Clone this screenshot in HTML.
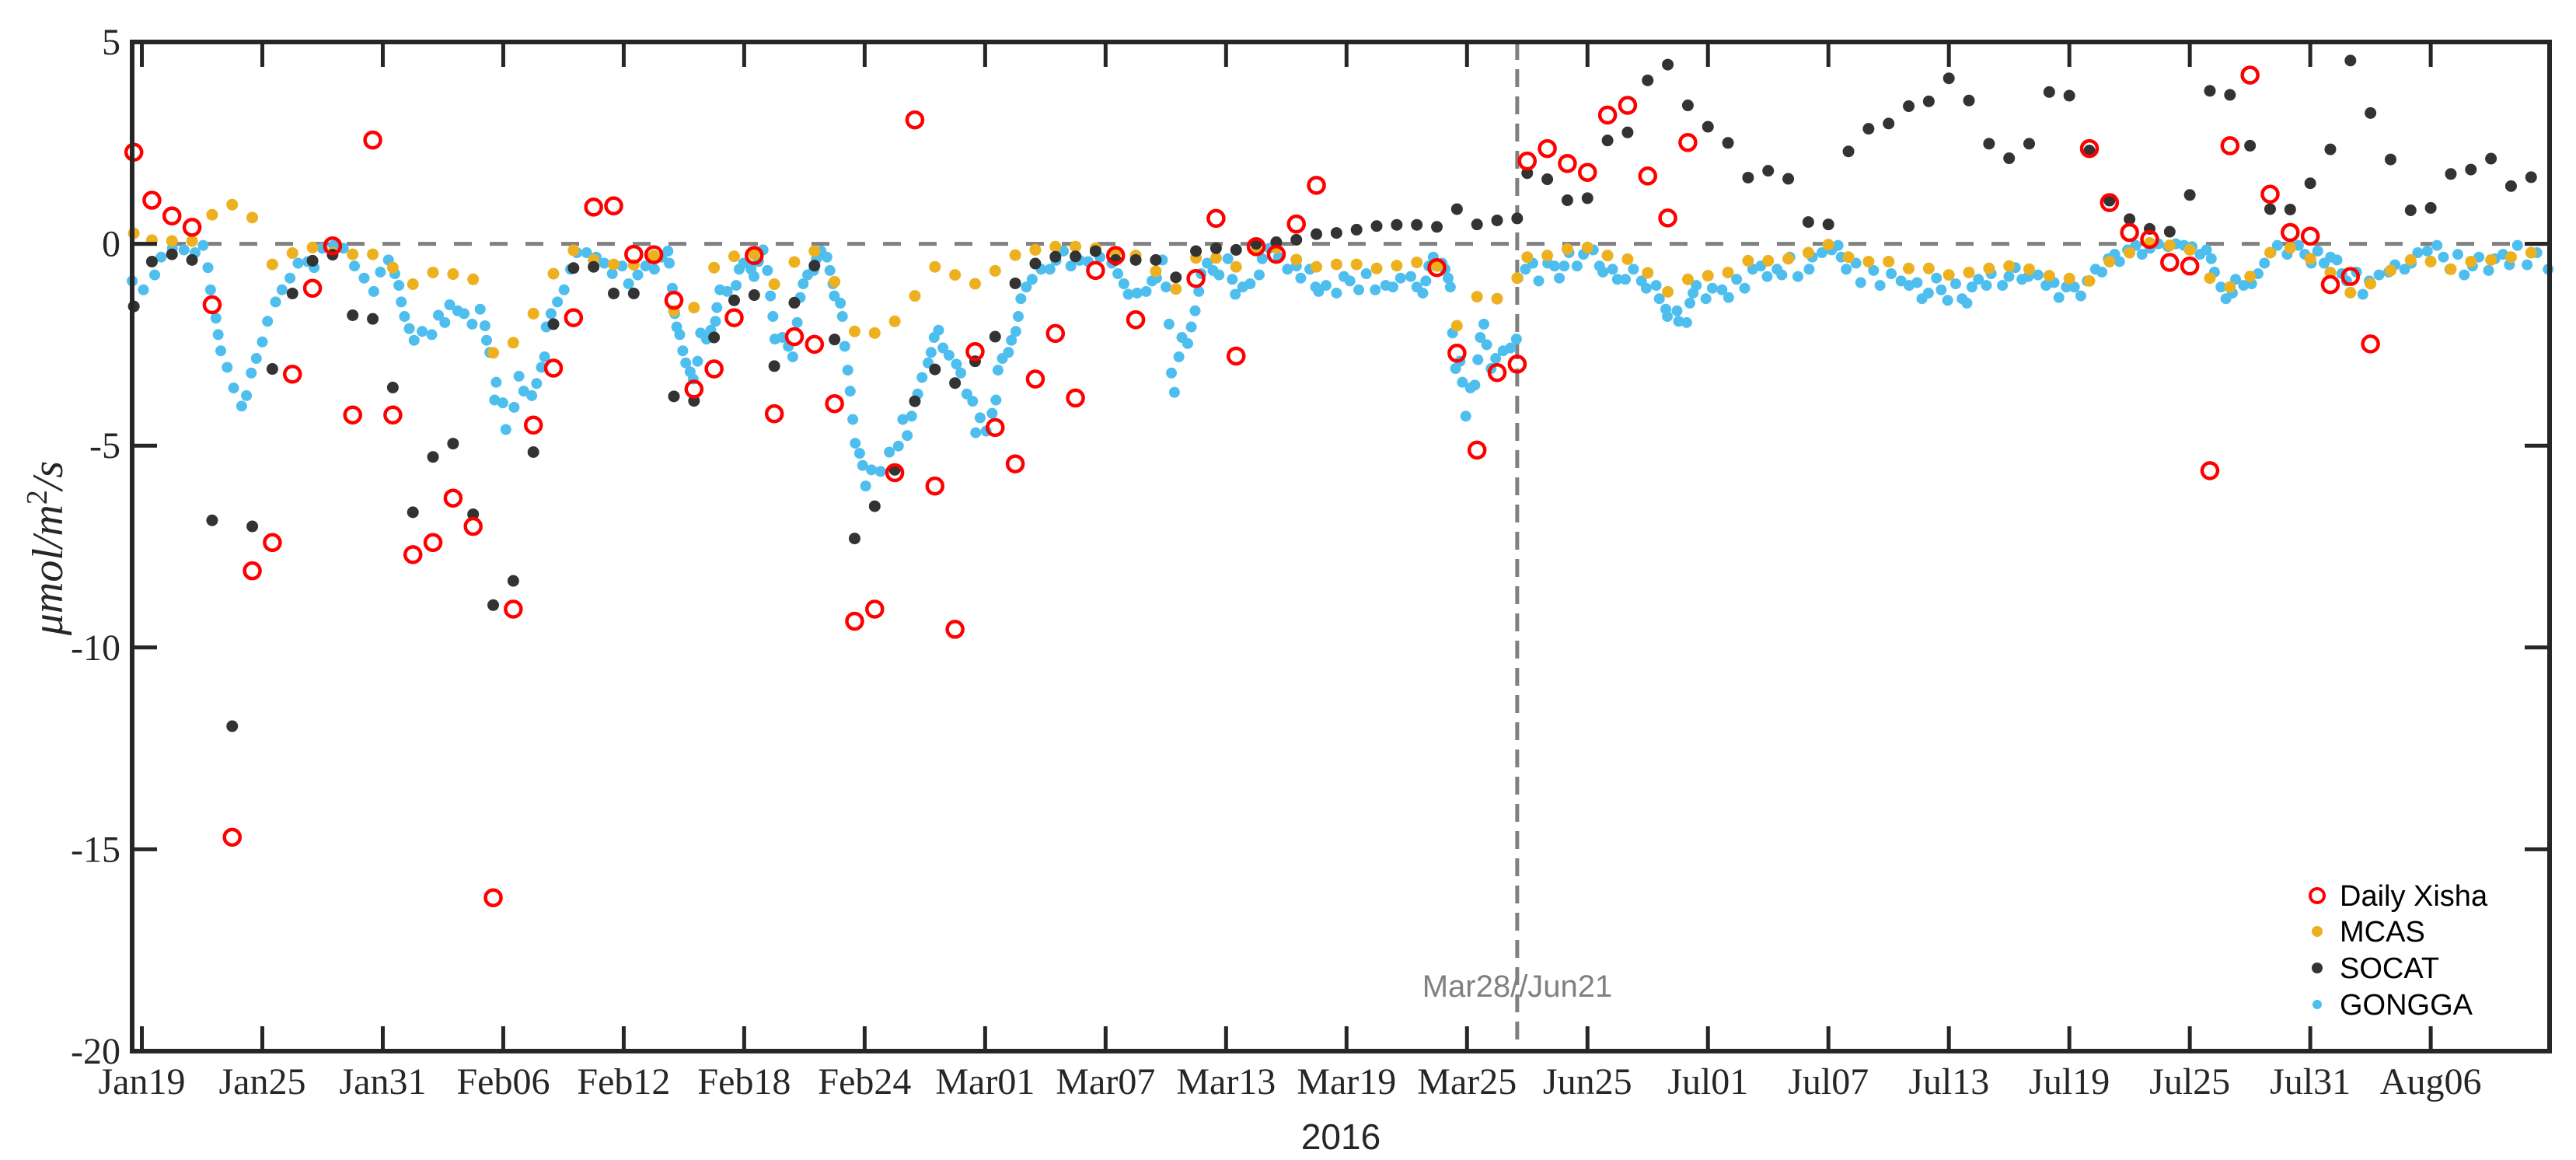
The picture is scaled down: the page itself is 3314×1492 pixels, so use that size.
<!DOCTYPE html>
<html><head><meta charset="utf-8"><style>
html,body{margin:0;padding:0;background:#fff;}
svg{display:block;}
</style></head><body>
<svg id="chart" width="3314" height="1492" viewBox="0 0 3314 1492" xmlns="http://www.w3.org/2000/svg">
<rect x="0" y="0" width="3314" height="1492" fill="#fff"/>
<g id="marks"></g>
<g id="axes"></g>
<text transform="translate(80,705) rotate(-90)" text-anchor="middle" font-family="Liberation Serif, serif" font-style="italic" font-size="56" fill="#262626">μmol/m<tspan dy="-20" font-size="38" font-style="normal">2</tspan><tspan dy="20">/s</tspan></text>
<text x="1725" y="1478" text-anchor="middle" font-family="Liberation Sans, sans-serif" font-size="46" fill="#262626">2016</text>
<text x="1952" y="1282" text-anchor="middle" font-family="Liberation Sans, sans-serif" font-size="40" fill="#808080">Mar28//Jun21</text>
<g font-family="Liberation Sans, sans-serif" font-size="38" fill="#000">
 <g><circle cx="2981" cy="1152" r="9" fill="none" stroke="#ff0000" stroke-width="4"/><text x="3010" y="1165">Daily Xisha</text></g>
 <g><circle cx="2981" cy="1198" r="7" fill="#EDB120"/><text x="3010" y="1211">MCAS</text></g>
 <g><circle cx="2981" cy="1245" r="7" fill="#333"/><text x="3010" y="1258">SOCAT</text></g>
 <g><circle cx="2981" cy="1292" r="6" fill="#4DBEEE"/><text x="3010" y="1305">GONGGA</text></g>
</g>
</svg>
<script>
// ---- data (x = day index, Jan19 = 0; Mar28 joined to Jun21 at 68.5) ----
const xTickIdx = [0,6,12,18,24,30,36,42,48,54,60,66,72,78,84,90,96,102,108,114];
const xTickLabels = ["Jan19","Jan25","Jan31","Feb06","Feb12","Feb18","Feb24","Mar01","Mar07","Mar13","Mar19","Mar25","Jun25","Jul01","Jul07","Jul13","Jul19","Jul25","Jul31","Aug06"];
const yTicks = [5,0,-5,-10,-15,-20];
const yTickLabels = ["5","0","-5","-10","-15","-20"];
const breakIdx = 68.5;

const xishaX = [-0.4,0.5,1.5,2.5,3.5,4.5,5.5,6.5,7.5,8.5,9.5,10.5,11.5,12.5,13.5,14.5,15.5,16.5,17.5,18.5,19.5,20.5,21.5,22.5,23.5,24.5,25.5,26.5,27.5,28.5,29.5,30.5,31.5,32.5,33.5,34.5,35.5,36.5,37.5,38.5,39.5,40.5,41.5,42.5,43.5,44.5,45.5,46.5,47.5,48.5,49.5,52.5,53.5,54.5,55.5,56.5,57.5,58.5,64.5,65.5,66.5,67.5,68.5,69,70,71,72,73,74,75,76,77,97,98,99,100,101,102,103,104,105,106,107,108,109,110,111];
const xishaY = [2.27,1.08,0.69,0.41,-1.51,-14.7,-8.1,-7.4,-3.23,-1.1,-0.05,-4.24,2.57,-4.24,-7.7,-7.4,-6.3,-7.0,-16.2,-9.05,-4.49,-3.08,-1.83,0.91,0.94,-0.26,-0.27,-1.4,-3.6,-3.1,-1.83,-0.29,-4.21,-2.3,-2.49,-3.96,-9.35,-9.05,-5.67,3.07,-6.0,-9.55,-2.67,-4.55,-5.45,-3.35,-2.22,-3.82,-0.66,-0.29,-1.88,-0.86,0.63,-2.78,-0.07,-0.26,0.49,1.45,-0.59,-2.71,-5.11,-3.19,-2.98,2.05,2.36,1.99,1.77,3.19,3.43,1.68,0.64,2.51,2.36,1.02,0.28,0.11,-0.46,-0.55,-5.62,2.43,4.18,1.23,0.28,0.19,-1.01,-0.81,-2.48];

const mcasX = [-0.4,0.5,1.5,2.5,3.5,4.5,5.5,6.5,7.5,8.5,9.5,10.5,11.5,12.5,13.5,14.5,15.5,16.5,17.5,18.5,19.5,20.5,21.5,22.5,23.5,24.5,25.5,26.5,27.5,28.5,29.5,30.5,31.5,32.5,33.5,34.5,35.5,36.5,37.5,38.5,39.5,40.5,41.5,42.5,43.5,44.5,45.5,46.5,47.5,48.5,49.5,50.5,51.5,52.5,53.5,54.5,55.5,56.5,57.5,58.5,59.5,60.5,61.5,62.5,63.5,64.5,65.5,66.5,67.5,68.5,69,70,71,72,73,74,75,76,77,78,79,80,81,82,83,84,85,86,87,88,89,90,91,92,93,94,95,96,97,98,99,100,101,102,103,104,105,106,107,108,109,110,111,112,113,114,115,116,117,118,119];
const mcasY = [0.26,0.09,0.07,0.07,0.72,0.97,0.65,-0.51,-0.23,-0.09,-0.22,-0.26,-0.26,-0.59,-1.0,-0.71,-0.75,-0.88,-2.7,-2.45,-1.73,-0.74,-0.16,-0.4,-0.51,-0.52,-0.29,-1.66,-1.58,-0.59,-0.31,-0.26,-1.0,-0.45,-0.18,-0.94,-2.17,-2.21,-1.92,-1.29,-0.57,-0.77,-0.99,-0.67,-0.28,-0.15,-0.07,-0.07,-0.11,-0.22,-0.29,-0.68,-1.12,-0.35,-0.35,-0.57,-0.17,-0.1,-0.39,-0.57,-0.51,-0.51,-0.61,-0.54,-0.46,-0.55,-2.03,-1.31,-1.36,-0.85,-0.33,-0.29,-0.13,-0.09,-0.29,-0.38,-0.72,-1.19,-0.88,-0.79,-0.71,-0.42,-0.42,-0.37,-0.22,-0.02,-0.33,-0.44,-0.44,-0.61,-0.61,-0.77,-0.71,-0.61,-0.55,-0.63,-0.79,-0.86,-0.92,-0.44,-0.22,0.02,-0.04,-0.15,-0.85,-1.07,-0.81,-0.22,-0.1,-0.37,-0.71,-1.21,-0.99,-0.66,-0.4,-0.44,-0.63,-0.44,-0.4,-0.33,-0.22];

const socatX = [-0.4,0.5,1.5,2.5,3.5,4.5,5.5,6.5,7.5,8.5,9.5,10.5,11.5,12.5,13.5,14.5,15.5,16.5,17.5,18.5,19.5,20.5,21.5,22.5,23.5,24.5,26.5,27.5,28.5,29.5,30.5,31.5,32.5,33.5,34.5,35.5,36.5,37.5,38.5,39.5,40.5,41.5,42.5,43.5,44.5,45.5,46.5,47.5,48.5,49.5,50.5,51.5,52.5,53.5,54.5,55.5,56.5,57.5,58.5,59.5,60.5,61.5,62.5,63.5,64.5,65.5,66.5,67.5,68.5,69,70,71,72,73,74,75,76,77,78,79,80,81,82,83,84,85,86,87,88,89,90,91,92,93,94,95,96,97,98,99,100,101,102,103,104,105,106,107,108,109,110,111,112,113,114,115,116,117,118,119];
const socatY = [-1.55,-0.44,-0.26,-0.4,-6.85,-11.95,-7.0,-3.1,-1.23,-0.42,-0.27,-1.77,-1.86,-3.56,-6.65,-5.28,-4.95,-6.7,-8.95,-8.35,-5.16,-1.99,-0.6,-0.57,-1.23,-1.23,-3.78,-3.89,-2.32,-1.4,-1.27,-3.03,-1.46,-0.54,-2.37,-7.3,-6.5,-5.6,-3.9,-3.11,-3.45,-2.91,-2.3,-0.98,-0.49,-0.32,-0.31,-0.18,-0.4,-0.4,-0.4,-0.83,-0.18,-0.11,-0.15,0.0,0.04,0.1,0.24,0.27,0.35,0.44,0.47,0.47,0.42,0.86,0.48,0.58,0.63,1.75,1.6,1.08,1.13,2.56,2.76,4.05,4.44,3.43,2.9,2.5,1.64,1.81,1.61,0.54,0.48,2.29,2.85,2.98,3.41,3.53,4.1,3.55,2.48,2.12,2.48,3.76,3.67,2.31,1.07,0.61,0.37,0.3,1.21,3.79,3.69,2.43,0.86,0.85,1.5,2.34,4.54,3.24,2.09,0.83,0.89,1.73,1.84,2.11,1.43,1.65];

const gonggaX = [-0.48,0.08,0.64,0.96,1.52,2.1,2.65,3.05,3.29,3.42,3.69,3.8,3.93,4.25,4.57,4.97,5.21,5.45,5.7,6.0,6.26,6.66,6.98,7.38,7.78,8.26,8.58,8.99,9.55,10.03,10.59,11.07,11.55,11.88,12.28,12.6,12.8,12.92,13.08,13.32,13.56,13.96,14.44,14.77,15.09,15.33,15.73,16.05,16.45,16.85,17.09,17.17,17.33,17.65,17.57,17.98,18.13,18.54,18.78,19.02,19.42,19.66,19.9,20.06,20.14,20.38,20.7,21.03,21.35,21.67,22.15,22.63,23.03,23.43,23.92,24.24,24.7,25.09,25.53,25.9,26.2,26.27,26.42,26.54,26.64,26.79,26.94,27.09,27.31,27.46,27.68,27.83,28.12,28.34,28.57,28.64,28.79,29.16,29.6,29.75,29.97,30.34,30.49,30.71,30.94,31.16,31.31,31.43,31.53,31.9,32.2,32.42,32.64,32.79,32.94,33.16,33.46,33.6,33.83,34.12,34.27,34.42,34.49,34.79,34.89,35.01,35.16,35.28,35.41,35.53,35.75,35.9,36.05,36.34,36.79,37.23,37.68,37.9,38.12,38.34,38.64,38.86,39.16,39.31,39.46,39.68,39.9,40.2,40.57,40.79,41.09,41.38,41.53,41.75,42.05,42.35,42.54,42.64,42.86,43.16,43.31,43.53,43.65,43.78,44.05,44.34,44.79,45.23,45.53,45.9,46.27,46.71,47.13,47.72,48.31,48.61,48.91,49.13,49.57,50.02,50.31,50.54,50.83,51.01,51.16,51.28,51.43,51.65,51.8,52.09,52.27,52.46,52.64,52.76,53.06,53.35,53.65,54.09,54.31,54.46,54.83,55.2,55.65,55.8,56.17,56.61,57.06,57.5,57.72,58.17,58.46,58.61,58.98,59.5,59.87,60.17,60.61,60.98,61.43,61.95,62.31,62.69,63.2,63.5,63.8,63.95,64.1,64.32,64.76,64.91,65.06,65.17,65.28,65.43,65.65,65.77,65.94,66.17,66.39,66.54,66.66,66.84,66.98,67.2,67.43,67.8,68.17,68.46,68.54,68.91,69.28,69.57,70.02,70.36,70.6,70.84,71.08,71.48,71.8,72.29,72.6,72.77,73.25,73.49,73.89,74.29,74.69,74.93,75.42,75.58,75.9,75.98,76.46,76.54,76.94,77.1,77.26,77.42,77.9,78.22,78.7,79.03,79.43,79.83,80.23,80.63,80.95,81.44,81.68,82.08,82.48,83.04,83.2,83.68,84.16,84.48,84.64,84.89,85.37,85.61,86.25,86.57,87.13,87.62,88.02,88.42,88.66,88.98,89.38,89.62,89.94,90.34,90.66,90.9,91.15,91.47,91.87,92.11,92.67,92.99,93.31,93.64,93.96,94.44,94.84,95.24,95.48,95.85,96.25,96.57,96.89,97.3,97.62,97.94,98.26,98.5,98.9,99.3,99.62,100.02,100.43,100.91,101.31,101.71,102.11,102.51,102.83,103.07,103.23,103.55,103.8,104.12,104.28,104.68,105.08,105.4,105.72,106.04,106.36,106.85,107.41,107.73,108.05,108.37,108.69,109.01,109.33,109.57,109.81,110.3,110.62,110.94,111.42,111.9,112.22,112.7,113.03,113.35,113.83,114.31,114.63,114.95,115.35,115.67,116.08,116.4,116.88,117.2,117.6,117.92,118.32,118.8,119.29,119.85];
const gonggaY = [-0.92,-1.14,-0.77,-0.33,-0.11,-0.15,-0.22,-0.04,-0.59,-1.14,-1.84,-2.25,-2.65,-3.06,-3.57,-4.02,-3.76,-3.2,-2.84,-2.43,-1.92,-1.44,-1.14,-0.85,-0.48,-0.44,-0.59,-0.11,-0.04,-0.11,-0.55,-0.85,-1.18,-0.7,-0.4,-0.74,-1.03,-1.44,-1.8,-2.1,-2.39,-2.17,-2.25,-1.77,-1.95,-1.51,-1.66,-1.73,-1.99,-1.62,-2.03,-2.39,-2.69,-3.43,-3.87,-3.94,-4.6,-4.05,-3.28,-3.65,-3.76,-3.46,-3.06,-2.8,-2.06,-1.73,-1.44,-1.14,-0.63,-0.22,-0.22,-0.33,-0.48,-0.74,-0.55,-0.99,-0.77,-0.55,-0.63,-0.33,-0.18,-0.48,-1.1,-1.73,-2.06,-2.25,-2.65,-2.95,-3.17,-3.35,-2.91,-2.21,-2.36,-2.14,-1.92,-1.58,-1.14,-1.18,-1.03,-0.63,-0.48,-0.63,-0.81,-0.44,-0.15,-0.66,-1.29,-1.8,-2.36,-2.32,-2.54,-2.8,-1.95,-1.33,-0.99,-0.77,-0.66,-0.37,-0.18,-0.33,-0.66,-0.99,-1.29,-1.47,-1.8,-2.54,-3.13,-3.65,-4.35,-4.94,-5.19,-5.49,-6.0,-5.6,-5.64,-5.16,-5.01,-4.35,-4.75,-4.27,-3.72,-3.31,-2.95,-2.69,-2.32,-2.14,-2.58,-2.76,-2.98,-3.2,-3.72,-3.9,-4.68,-4.31,-4.64,-4.2,-3.87,-3.13,-2.84,-2.69,-2.39,-2.17,-1.8,-1.36,-1.07,-0.88,-0.63,-0.63,-0.41,-0.18,-0.55,-0.41,-0.44,-0.33,-0.48,-0.74,-0.99,-1.25,-1.22,-1.18,-0.92,-0.85,-0.4,-1.07,-1.99,-3.2,-3.68,-2.8,-2.32,-2.47,-2.06,-1.66,-1.18,-0.74,-0.48,-0.66,-0.77,-0.37,-0.88,-1.25,-1.07,-0.99,-0.77,-0.37,-0.11,-0.33,-0.63,-0.55,-0.85,-0.63,-1.07,-1.18,-1.03,-1.22,-0.81,-0.92,-1.14,-0.74,-1.14,-1.03,-1.07,-0.85,-0.81,-1.07,-1.22,-0.92,-0.55,-0.33,-0.48,-0.63,-0.85,-1.07,-2.21,-3.09,-2.91,-3.43,-4.27,-3.57,-3.5,-2.87,-2.32,-1.99,-2.5,-3.09,-2.84,-2.65,-2.58,-2.36,-0.85,-0.63,-0.48,-0.92,-0.48,-0.55,-0.85,-0.55,-0.22,-0.55,-0.26,-0.15,-0.55,-0.7,-0.63,-0.88,-0.88,-0.63,-0.92,-1.1,-1.03,-1.36,-1.62,-1.8,-1.66,-1.92,-1.95,-1.47,-1.22,-1.03,-1.36,-1.1,-1.14,-1.33,-0.88,-1.1,-0.63,-0.55,-0.81,-0.63,-0.77,-0.33,-0.81,-0.63,-0.33,-0.22,-0.15,-0.04,-0.33,-0.63,-0.48,-0.96,-0.66,-1.03,-0.74,-0.92,-1.03,-0.96,-1.36,-1.22,-0.85,-1.14,-1.4,-0.99,-1.36,-1.47,-1.07,-0.88,-1.03,-0.74,-1.03,-0.81,-0.59,-0.88,-0.81,-0.77,-1.03,-0.96,-1.33,-1.07,-1.07,-1.29,-0.92,-0.63,-0.7,-0.37,-0.26,-0.44,-0.15,-0.04,-0.26,-0.11,0.0,-0.07,0.0,-0.04,-0.07,-0.26,-0.15,-0.37,-0.7,-1.07,-1.36,-1.22,-0.88,-1.03,-0.99,-0.74,-0.48,-0.22,-0.04,-0.26,-0.04,-0.26,-0.48,-0.18,-0.48,-0.33,-0.4,-0.74,-0.92,-0.7,-1.25,-0.92,-0.77,-0.7,-0.52,-0.63,-0.48,-0.22,-0.18,-0.04,-0.33,-0.63,-0.26,-0.77,-0.55,-0.33,-0.66,-0.37,-0.26,-0.52,-0.04,-0.52,-0.22,-0.63];

// ---- layout ----
const L=170, R=3280, T=54, B=1352;
const X0=182.5, PXD=25.83;
const yMin=-20, yMax=5;
function xs(i){return X0 + i*PXD;}
function ys(v){return T + (yMax - v)/(yMax - yMin)*(B - T);}
const NS="http://www.w3.org/2000/svg";
function mk(tag, attrs, parent){const e=document.createElementNS(NS,tag);for(const k in attrs)e.setAttribute(k,attrs[k]);parent.appendChild(e);return e;}
const marks=document.getElementById('marks');
const axes=document.getElementById('axes');

let zl=mk('line',{x1:L,x2:R,y1:ys(0),y2:ys(0),stroke:'#808080','stroke-width':5,'stroke-dasharray':'23 23'},marks);


let bl=mk('line',{x1:xs(breakIdx),x2:xs(breakIdx),y1:T,y2:B,stroke:'#808080','stroke-width':5,'stroke-dasharray':'23 12'},marks);



const gG=mk('g',{},marks);


for(let i=0;i<gonggaX.length;i++){
  const c=mk('circle',{cx:xs(gonggaX[i]),cy:ys(gonggaY[i]),r:7,fill:'#4DBEEE'},gG);
  
  
}
const gM=mk('g',{},marks);


for(let i=0;i<mcasX.length;i++){
  const c=mk('circle',{cx:xs(mcasX[i]),cy:ys(mcasY[i]),r:7.5,fill:'#EDB120'},gM);
  
  
}
const gS=mk('g',{},marks);


for(let i=0;i<socatX.length;i++){
  const c=mk('circle',{cx:xs(socatX[i]),cy:ys(socatY[i]),r:7.5,fill:'#333333'},gS);
  
  
}
const gX=mk('g',{},marks);


for(let i=0;i<xishaX.length;i++){
  const c=mk('circle',{cx:xs(xishaX[i]),cy:ys(xishaY[i]),r:10,fill:'none',stroke:'#ff0000','stroke-width':4.5},gX);
  
  
}

const fr=mk('rect',{x:L,y:T,width:R-L,height:B-T,fill:'none',stroke:'#262626','stroke-width':6},axes);


const TL=32;
for(let i=0;i<xTickIdx.length;i++){
  const x=xs(xTickIdx[i]);
  const t1=mk('line',{x1:x,x2:x,y1:B,y2:B-TL,stroke:'#262626','stroke-width':5},axes);
  
  
  const t2=mk('line',{x1:x,x2:x,y1:T,y2:T+TL,stroke:'#262626','stroke-width':5},axes);
  
  
  const lb=mk('text',{x:x,y:1407,'text-anchor':'middle','font-family':'Liberation Serif, serif','font-size':48,fill:'#262626'},axes);
  lb.textContent=xTickLabels[i];
  
  
}
for(let i=0;i<yTicks.length;i++){
  const y=ys(yTicks[i]);
  const t1=mk('line',{x1:L,x2:L+TL,y1:y,y2:y,stroke:'#262626','stroke-width':5},axes);
  
  
  const t2=mk('line',{x1:R,x2:R-TL,y1:y,y2:y,stroke:'#262626','stroke-width':5},axes);
  
  
  const lb=mk('text',{x:155,y:y+16,'text-anchor':'end','font-family':'Liberation Serif, serif','font-size':48,fill:'#262626'},axes);
  lb.textContent=yTickLabels[i];
  
  
}
</script>
</body></html>
